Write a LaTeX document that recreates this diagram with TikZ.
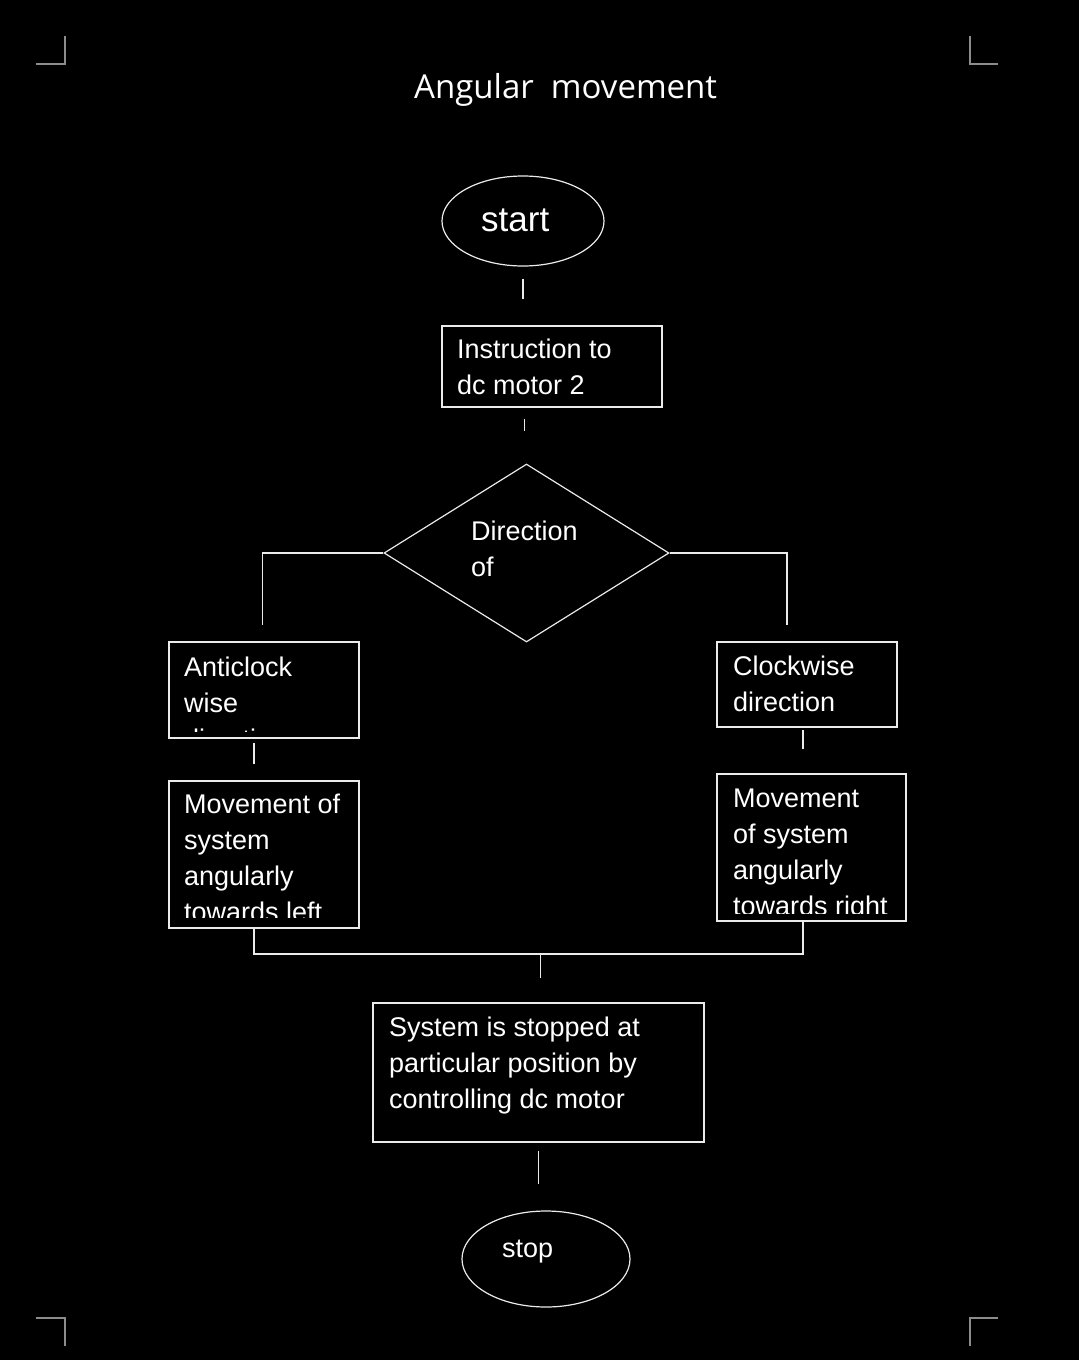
\documentclass[tikz,border=0pt]{standalone}
\usepackage{fontspec}
\setmainfont{Liberation Sans}
\newfontfamily\titlefont{Open Sans}
\usetikzlibrary{shapes.geometric}
\newcommand\mlines[1]{\vtop{\halign{##\hfil\cr#1\crcr}}}
\begin{document}
\begin{tikzpicture}[x=1pt,y=-1pt,
  line/.style={draw=white!92!black,line width=1.2pt},
  box/.style={line,rectangle,inner sep=0pt,fill=none},
  oval/.style={line,ellipse,inner sep=0pt},
  dia/.style={line,diamond,inner sep=0pt},
  txt/.style={text=white,anchor=base west,inner sep=0pt,font=\fontsize{27}{36}\selectfont},
  corner/.style={draw=black!45!white,line width=1.5pt}]
\fill[black] (0,0) rectangle (1079,1360);
\useasboundingbox (0,0) rectangle (1079,1360);
% corner marks
\draw[corner] (36,64) -- (65,64) -- (65,36);
\draw[corner] (970,36) -- (970,64) -- (998,64);
\draw[corner] (36,1318) -- (65,1318) -- (65,1346);
\draw[corner] (998,1318) -- (970,1318) -- (970,1346);
% title
\node[txt,font=\titlefont\fontsize{33}{40}\selectfont] (title) at (414,98) {Angular\ \ movement};
% shapes
\node[oval,minimum width=162pt,minimum height=90pt] (start) at (523,221) {};
\node[txt,font=\fontsize{35}{40}\selectfont] (starttxt) at (481,231) {start};
\node[box,minimum width=220pt,minimum height=81pt] (instr) at (552,366.5) {};
\node[txt] (instrtxt) at (457,358) {\mlines{Instruction to\cr dc motor 2}};
\node[dia,minimum width=285pt,minimum height=178pt] (dir) at (526.5,553) {};
\node[txt] (dirtxt) at (471,540) {\mlines{Direction\cr of}};
\node[box,minimum width=190pt,minimum height=96pt] (anti) at (264,690) {};
\begin{scope}
\clip (170,643) rectangle (358,731);
\node[txt] (antitxt) at (184,676) {\mlines{Anticlock\cr wise\cr direction}};
\end{scope}
\node[box,minimum width=180pt,minimum height=85pt] (cw) at (807,684.5) {};
\node[txt] (cwtxt) at (733,675) {\mlines{Clockwise\cr direction}};
\node[box,minimum width=190pt,minimum height=147pt] (movL) at (264,854.5) {};
\begin{scope}
\clip (170,782) rectangle (358,917);
\node[txt] (movLtxt) at (184,813) {\mlines{Movement of\cr system\cr angularly\cr towards left}};
\end{scope}
\node[box,minimum width=189pt,minimum height=147pt] (movR) at (811.5,847.5) {};
\begin{scope}
\clip (718,775) rectangle (905,913);
\node[txt] (movRtxt) at (733,807) {\mlines{Movement\cr of system\cr angularly\cr towards right}};
\end{scope}
\node[box,minimum width=331pt,minimum height=139pt] (sys) at (538.5,1072.5) {};
\node[txt] (systxt) at (389,1036) {\mlines{System is stopped at\cr particular position by\cr controlling dc motor}};
\node[oval,minimum width=168pt,minimum height=96pt] (stop) at (546,1259) {};
\node[txt] (stoptxt) at (502,1257) {stop};
% connectors
\coordinate (join) at (540.5,954);
\draw[line,shorten <=12pt,shorten >=26pt] (start.south) -- (start.south |- instr.north);
\draw[line,shorten <=11pt,shorten >=32pt] ([xshift=-2pt]dir.north |- instr.south) -- ([xshift=-2pt]dir.north);
\draw[line] (dir.west) -| ([xshift=-1.5pt,yshift=16pt]anti.north);
\draw[line] (dir.east) -| ([xshift=-20pt,yshift=16pt]cw.north);
\draw[line,shorten <=4pt,shorten >=16pt] ([xshift=-10pt]anti.south) -- ([xshift=-10pt]movL.north);
\draw[line,shorten <=2pt,shorten >=24pt] ([xshift=-4pt]cw.south) -- ([xshift=-4pt]cw.south |- movR.north);
\draw[line] ([xshift=-10pt]movL.south) |- (join) -| ([xshift=-8.5pt]movR.south);
\draw[line,shorten >=24pt] (join) -- (join |- sys.north);
\draw[line,shorten <=8pt,shorten >=26pt] (sys.south) -- (sys.south |- stop.north);
\end{tikzpicture}
\end{document}
